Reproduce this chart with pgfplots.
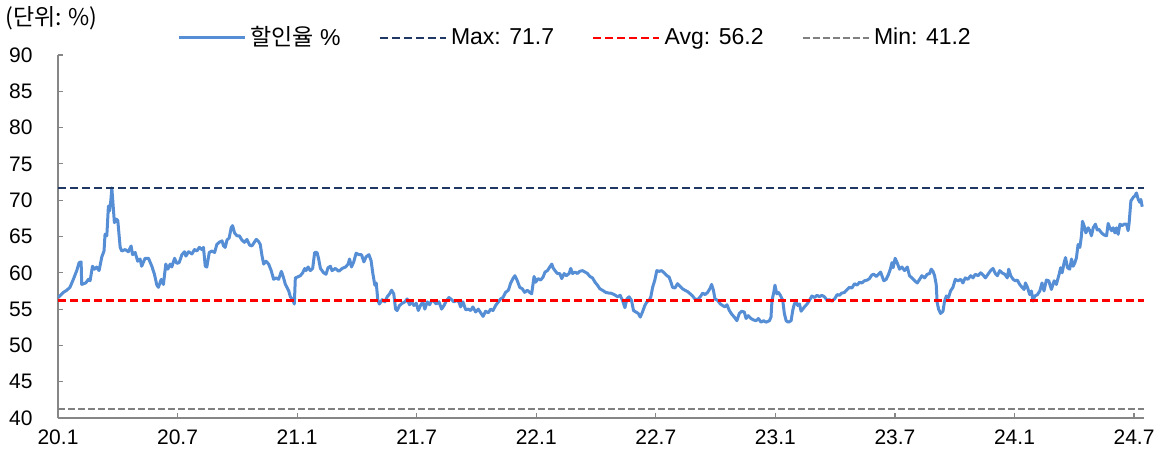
\documentclass[border=0pt]{standalone}
\usepackage{pgfplots}
\pgfplotsset{compat=1.18}
\usepackage{fontspec}
\setmainfont{Liberation Sans}
\newfontfamily\kr{Noto Sans CJK KR}
\definecolor{lineblue}{RGB}{85,142,213}
\definecolor{navy}{RGB}{31,56,100}
\definecolor{avgred}{RGB}{255,0,0}
\definecolor{mingrey}{RGB}{128,128,128}
\definecolor{axisgrey}{RGB}{134,134,134}
\begin{document}
\fontsize{10.5}{12}\selectfont
\begin{tikzpicture}
\begin{axis}[
  scale only axis,
  width=543pt, height=181.5pt,
  xmin=0, xmax=54.5, ymin=40, ymax=90,
  clip=false,
  axis lines=left,
  axis line style={-, axisgrey, line width=0.6pt},
  tick align=inside,
  major tick length=2.5pt,
  tick style={axisgrey, line width=0.6pt},
  xtick={0,6,12,18,24,30,36,42,48,54},
  xticklabels={20.1,20.7,21.1,21.7,22.1,22.7,23.1,23.7,24.1,24.7},
  ytick={40,45,50,55,60,65,70,75,80,85,90},
  /pgf/number format/assume math mode=true,
  tick label style={font=\fontsize{10.5}{12}\selectfont, text=black},
  yticklabel style={xshift=-9pt},
  xticklabel style={yshift=-2pt},
  legend columns=4,
  legend style={at={(rel axis cs:0.477,1.047)}, anchor=center, draw=none, fill=none,
    font=\fontsize{11.5}{13}\selectfont,
    /tikz/every even column/.append style={column sep=17pt},
    /tikz/every odd column/.append style={column sep=0pt}},
  legend image code/.code={\draw[#1] (0pt,0pt) -- (33pt,0pt);},
]
\addplot[lineblue, line width=1.5pt, line join=round] coordinates {
(0.02,56.6) (0.27,57.3) (0.44,57.6) (0.6,58.0) (0.77,59.1) (0.94,60.3) (1.06,61.4) (1.16,61.5) (1.19,58.4) (1.39,58.6)
(1.53,59.1) (1.61,58.9) (1.73,60.9) (1.83,60.5) (1.94,60.8) (2.06,60.3) (2.2,62.2) (2.31,63.0) (2.36,65.3) (2.45,65.1)
(2.53,69.2) (2.58,68.5) (2.65,69.9) (2.7,71.7) (2.75,69.9) (2.83,66.9) (2.92,67.4) (3.0,67.2) (3.12,63.5) (3.2,63.0)
(3.37,63.2) (3.53,62.9) (3.67,63.7) (3.74,62.5) (3.87,62.8) (4.0,61.6) (4.12,61.9) (4.2,60.9) (4.37,62.0) (4.54,62.0)
(4.71,60.9) (4.84,59.8) (4.96,58.3) (5.04,58.0) (5.18,59.1) (5.29,58.4) (5.41,61.2) (5.51,60.5) (5.63,61.2) (5.71,60.8)
(5.85,62.0) (5.96,61.3) (6.08,61.4) (6.22,62.5) (6.35,62.9) (6.42,62.3) (6.55,62.9) (6.72,62.6) (6.85,63.2) (6.97,63.0)
(7.09,63.5) (7.22,63.2) (7.3,63.5) (7.39,60.9) (7.47,60.8) (7.59,62.8) (7.72,63.0) (7.86,62.8) (7.97,63.9) (8.09,64.2)
(8.23,64.4) (8.31,63.7) (8.39,63.5) (8.48,64.5) (8.59,64.8) (8.69,66.2) (8.76,66.5) (8.86,65.5) (8.98,65.1) (9.1,65.1)
(9.23,64.5) (9.36,64.2) (9.48,64.6) (9.62,63.8) (9.73,63.7) (9.85,64.2) (9.95,64.6) (10.07,64.3) (10.15,63.9) (10.24,62.3)
(10.32,61.2) (10.44,61.6) (10.57,61.2) (10.7,60.3) (10.82,59.1) (10.94,59.3) (11.07,59.1) (11.21,60.2) (11.32,59.3) (11.41,58.4)
(11.49,58.0) (11.58,57.5) (11.66,56.7) (11.78,56.3) (11.86,55.7) (11.91,59.3) (12.0,59.4) (12.16,59.6) (12.28,60.0) (12.38,60.6)
(12.45,60.3) (12.55,60.8) (12.66,60.3) (12.78,60.6) (12.88,62.8) (13.0,62.8) (13.08,61.9) (13.17,60.6) (13.33,60.0) (13.45,59.8)
(13.55,60.7) (13.67,60.9)
(13.75,60.3) (13.92,60.6) (14.09,60.2) (14.26,60.6) (14.43,60.8) (14.56,61.2) (14.63,61.9) (14.73,60.8) (14.84,61.5) (14.96,62.7)
(15.1,62.5) (15.23,62.5) (15.35,61.5) (15.46,62.2) (15.6,62.5) (15.71,61.7) (15.8,59.9) (15.9,58.3) (15.97,58.6) (16.05,56.2)
(16.13,55.7) (16.27,56.3) (16.4,56.0) (16.52,56.7) (16.64,57.1) (16.74,57.6) (16.85,57.1) (16.94,55.0) (17.02,54.8) (17.14,55.5)
(17.27,55.8) (17.41,56.0) (17.52,56.4) (17.64,55.6) (17.74,56.0) (17.86,55.5) (17.98,55.8) (18.08,54.8) (18.19,55.5) (18.31,56.0)
(18.41,55.0) (18.53,56.0) (18.65,55.6) (18.75,56.2) (18.86,56.1) (18.98,55.7) (19.12,56.0) (19.25,55.0) (19.37,55.5) (19.48,56.1)
(19.62,56.6) (19.75,56.3) (19.87,56.0) (19.99,56.2) (20.12,56.0) (20.2,55.3) (20.32,56.0) (20.46,54.9) (20.59,55.0) (20.71,54.8)
(20.82,55.3) (20.96,54.6) (21.09,55.0) (21.21,54.5) (21.33,54.0) (21.46,54.7) (21.6,54.5) (21.71,55.0) (21.83,54.8) (21.96,55.5)
(22.1,56.0) (22.21,56.4) (22.33,56.6) (22.46,57.3) (22.6,57.6) (22.72,58.6) (22.83,59.2) (22.93,59.6) (23.05,58.9) (23.17,58.0)
(23.3,57.8) (23.42,57.3) (23.55,57.6) (23.67,57.3) (23.77,57.1) (23.89,59.5) (23.97,58.7) (24.09,59.2) (24.22,59.0) (24.34,59.4)
(24.44,60.1) (24.56,60.3) (24.68,60.8) (24.78,61.2) (24.84,60.7) (24.94,60.3) (25.06,59.9) (25.18,59.9) (25.28,59.2) (25.4,59.9)
(25.51,59.6) (25.65,59.9) (25.73,60.6) (25.82,59.9) (25.95,60.1) (26.07,59.9) (26.18,60.2) (26.32,60.3) (26.45,60.1) (26.57,59.9)
(26.69,59.5) (26.82,59.3) (26.95,58.7) (27.07,58.3) (27.19,57.8) (27.32,57.6) (27.49,57.3) (27.66,57.2)
(27.74,57.2) (27.91,57.0) (28.08,56.7) (28.21,56.9) (28.33,56.2) (28.45,55.2) (28.55,56.4) (28.66,56.7) (28.78,56.2) (28.88,54.8)
(29.0,54.6) (29.12,54.4) (29.22,53.9) (29.33,54.6) (29.45,55.5) (29.55,56.0) (29.67,56.2) (29.75,56.7) (29.84,58.0) (29.95,59.0)
(30.05,60.3) (30.17,60.2) (30.29,60.3) (30.42,60.0) (30.56,59.6) (30.67,59.4) (30.76,58.7) (30.84,58.0) (30.96,57.9) (31.09,58.5)
(31.23,58.1) (31.34,57.8) (31.46,57.6) (31.6,57.4) (31.73,57.1) (31.85,56.8) (31.96,56.4) (32.1,56.3) (32.23,56.7) (32.35,57.2)
(32.47,57.0) (32.6,57.3) (32.73,57.9) (32.8,58.4) (32.89,57.6) (32.97,56.4) (33.1,56.2) (33.24,55.7) (33.35,55.5) (33.47,55.3)
(33.57,55.6) (33.69,54.8) (33.81,54.3) (33.94,53.9) (34.07,53.4) (34.19,54.4) (34.31,54.7) (34.44,54.6) (34.53,53.7) (34.64,54.1)
(34.78,53.7) (34.91,53.5) (35.03,53.4) (35.15,53.7) (35.28,53.2) (35.41,53.4) (35.53,53.2) (35.7,53.4) (35.78,53.9) (35.83,56.2)
(35.92,57.3) (35.98,58.3) (36.07,57.1) (36.15,57.3) (36.25,56.9) (36.37,56.2) (36.45,54.4) (36.54,53.4) (36.65,53.2) (36.79,53.4)
(36.87,54.8) (36.95,55.7) (37.04,56.0) (37.12,55.5) (37.21,55.7) (37.29,54.7) (37.37,55.0) (37.49,55.4) (37.59,55.7) (37.71,56.2)
(37.83,56.8) (37.96,56.6) (38.09,56.9) (38.21,56.7) (38.33,56.9) (38.46,56.7) (38.6,56.2) (38.71,56.3) (38.83,56.1) (38.97,56.4)
(39.1,57.0) (39.22,56.9) (39.33,57.2) (39.47,57.3) (39.6,57.7) (39.72,58.0) (39.84,57.9) (39.97,58.5) (40.1,58.3) (40.22,58.7)
(40.34,58.6) (40.47,58.9) (40.61,59.0) (40.72,59.2) (40.84,59.7) (40.94,59.8) (41.06,59.5) (41.18,59.8) (41.28,60.1)
(41.44,58.9) (41.56,59.1) (41.68,59.8) (41.78,60.6) (41.85,61.4) (41.91,60.7) (42.01,62.0) (42.11,61.4) (42.23,60.5) (42.35,60.8)
(42.48,60.3) (42.62,60.8) (42.73,59.6) (42.85,59.3) (42.99,58.9) (43.12,58.6) (43.24,59.1) (43.35,59.6) (43.49,59.3) (43.62,59.8)
(43.74,59.9) (43.82,60.5) (43.91,60.2) (43.99,59.6) (44.07,58.4) (44.12,55.9) (44.19,55.0) (44.29,54.4) (44.41,54.7) (44.49,56.1)
(44.58,56.8) (44.69,56.6) (44.79,57.5) (44.91,58.0) (45.03,59.1) (45.16,58.9) (45.3,59.1) (45.41,58.6) (45.53,59.3) (45.66,59.1)
(45.8,59.6) (45.92,59.3) (46.03,59.8) (46.17,59.6) (46.3,60.0) (46.42,59.7) (46.54,59.3) (46.67,59.8) (46.8,60.3) (46.92,60.6)
(47.04,59.9) (47.14,59.6) (47.26,60.3) (47.37,60.0) (47.51,59.8) (47.64,59.3) (47.71,60.5) (47.81,59.6) (47.93,59.1) (48.04,58.9)
(48.14,59.0) (48.26,58.4) (48.38,58.0) (48.48,57.7) (48.55,58.6) (48.65,58.0) (48.76,57.0) (48.85,57.5) (48.93,56.1) (49.02,56.8)
(49.15,57.0) (49.27,57.5) (49.38,58.6) (49.48,57.5) (49.6,59.0) (49.72,58.9) (49.85,57.7) (49.99,58.9) (50.1,58.4) (50.22,59.6)
(50.32,60.7) (50.39,60.0) (50.49,61.4) (50.56,62.1) (50.66,60.7) (50.77,60.5) (50.86,61.9) (50.94,60.9) (51.03,61.4) (51.11,62.1)
(51.19,63.9) (51.28,63.5) (51.36,65.1) (51.41,67.1) (51.49,66.5) (51.58,65.5) (51.7,66.2) (51.78,65.8) (51.86,65.1) (51.95,66.2)
(52.06,66.7) (52.15,65.9) (52.23,66.0) (52.37,65.5) (52.5,65.2) (52.62,65.1) (52.7,66.8) (52.78,66.2) (52.87,65.8) (52.95,66.2)
(53.04,65.5) (53.12,66.2) (53.2,65.3) (53.29,66.7) (53.4,66.5) (53.5,66.7) (53.62,66.7) (53.7,65.8) (53.75,66.8) (53.84,69.9)
(53.96,70.4) (54.04,70.6) (54.12,71.0) (54.21,70.1) (54.29,69.7) (54.34,70.1) (54.41,69.1)
};
\addlegendentry{{\kr 할인율} \%}
\addplot[navy, line width=1.2pt, dash pattern=on 4pt off 2pt] coordinates {(0,71.7) (54.5,71.7)};
\addlegendentry{Max: 71.7}
\addplot[avgred, line width=1.3pt, dash pattern=on 4pt off 2pt] coordinates {(0,56.2) (54.5,56.2)};
\addlegendentry{Avg: 56.2}
\addplot[mingrey, line width=1.2pt, dash pattern=on 3.5pt off 1.5pt] coordinates {(0,41.2) (54.5,41.2)};
\addlegendentry{Min: 41.2}
\node[anchor=west, inner sep=0pt] at (rel axis cs:-0.0488,1.102) {\fontsize{11.5}{13}\selectfont{\kr (단위: \%)}};
\path (rel axis cs:-0.0534,-0.1019) rectangle (rel axis cs:1.0184,1.1515);
\end{axis}
\end{tikzpicture}
\end{document}
